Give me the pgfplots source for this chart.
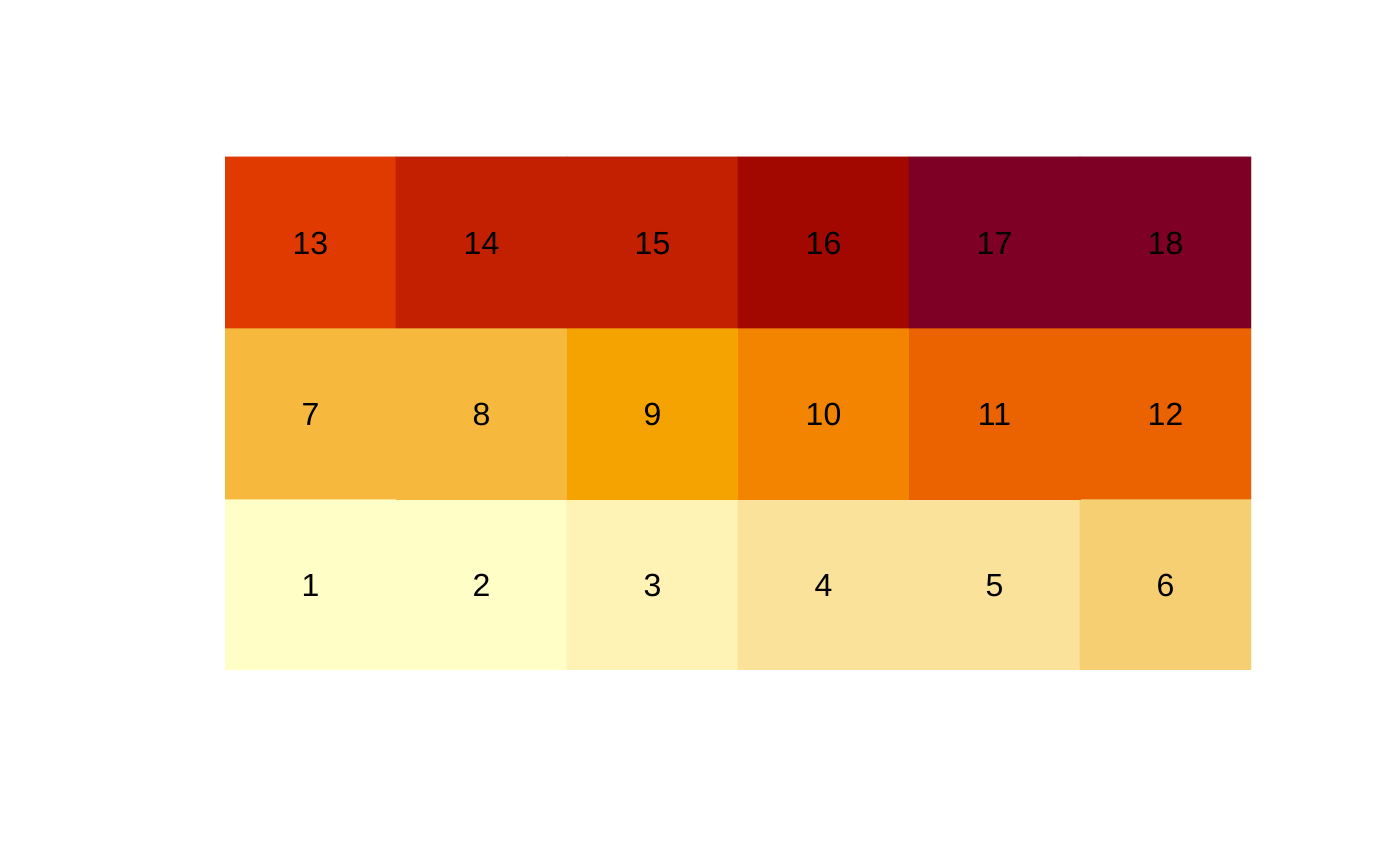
\documentclass[border=0pt]{standalone}
\usepackage{fontspec}
\setmainfont{Liberation Sans}
\usepackage{pgfplots}
\pgfplotsset{compat=1.18}
\usepackage{pgfplotstable}
\pgfplotstableread{
x y c lab
0 0 0 1
1 0 0 2
2 0 1 3
3 0 2 4
4 0 2 5
5 0 3 6
0 1 4 7
1 1 4 8
2 1 5 9
3 1 6 10
4 1 7 11
5 1 7 12
0 2 8 13
1 2 9 14
2 2 9 15
3 2 10 16
4 2 11 17
5 2 11 18
}\cells
\begin{document}
\begin{tikzpicture}
\useasboundingbox (0,0) rectangle (700pt,433pt);
\begin{axis}[
  at={(112.5pt,98pt)}, anchor=south west,
  scale only axis, width=513pt, height=256.5pt,
  hide axis, enlargelimits=false,
  xmin=-0.5, xmax=5.5, ymin=-0.5, ymax=2.5,
  colormap={heat}{
    rgb255=(255,254,198) rgb255=(254,242,180) rgb255=(251,226,154) rgb255=(246,207,115)
    rgb255=(246,185,61) rgb255=(245,163,0) rgb255=(242,132,0) rgb255=(235,98,0)
    rgb255=(224,58,0) rgb255=(194,32,0) rgb255=(162,8,0) rgb255=(126,0,37)},
  colormap access=direct,
]
\addplot[matrix plot*, mesh/cols=6, point meta=explicit] table[x=x,y=y,meta=c]{\cells};
\addplot[draw=none, mark=none, nodes near coords, point meta=explicit symbolic,
  every node near coord/.append style={anchor=center, inner sep=0pt, yshift=-0.5pt, font=\fontsize{16}{19}\selectfont, text=black}]
  table[x=x,y=y,meta=lab]{\cells};
\end{axis}
\end{tikzpicture}
\end{document}
